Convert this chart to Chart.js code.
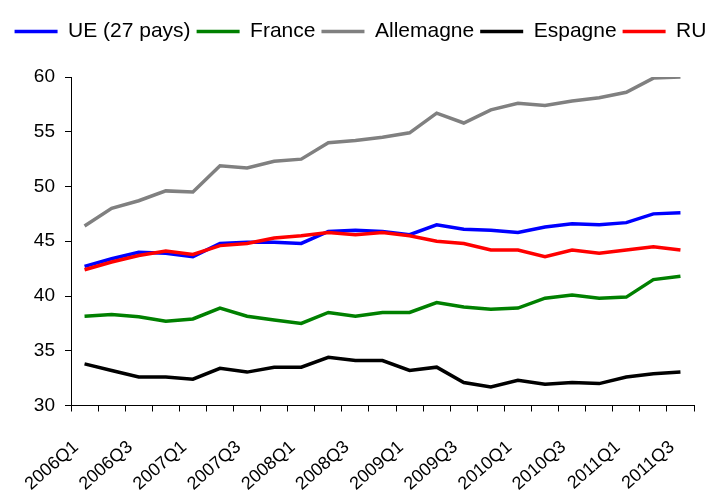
<!DOCTYPE html>
<html lang="fr">
<head>
  <meta charset="UTF-8">
  <script src="https://cdn.jsdelivr.net/npm/chart.js"></script>
  <style>
    html, body { margin: 0; padding: 0; background: #fff; }
    .box { width: 711px; height: 493px; }
  </style>
  <title>Graphique</title>
</head>
<body>
  <div class="box">
    <canvas id="graphique"></canvas>
  </div>

  <script>
    const trimestres = ["2006Q1", "2006Q2", "2006Q3", "2006Q4", "2007Q1", "2007Q2", "2007Q3", "2007Q4",
      "2008Q1", "2008Q2", "2008Q3", "2008Q4", "2009Q1", "2009Q2", "2009Q3", "2009Q4",
      "2010Q1", "2010Q2", "2010Q3", "2010Q4", "2011Q1", "2011Q2", "2011Q3"];

    const ue = [42.7, 43.4, 44.0, 43.9, 43.6, 44.8, 44.9, 44.9, 44.8, 45.9, 46.0, 45.9,
      45.6, 46.5, 46.1, 46.0, 45.8, 46.3, 46.6, 46.5, 46.7, 47.5, 47.6];
    const france = [38.15, 38.3, 38.1, 37.7, 37.9, 38.9, 38.15, 37.8, 37.5, 38.5, 38.15, 38.5,
      38.5, 39.4, 39.0, 38.8, 38.9, 39.8, 40.1, 39.8, 39.9, 41.5, 41.8];
    const allemagne = [46.4, 48.0, 48.7, 49.6, 49.5, 51.9, 51.7, 52.3, 52.5, 54.0, 54.2, 54.5,
      54.9, 56.7, 55.8, 57.0, 57.6, 57.4, 57.8, 58.1, 58.6, 59.9, 60.0];
    const espagne = [33.8, 33.2, 32.6, 32.6, 32.4, 33.4, 33.05, 33.5, 33.5, 34.4, 34.1, 34.1,
      33.2, 33.5, 32.1, 31.7, 32.3, 31.95, 32.1, 32.0, 32.6, 32.9, 33.05];
    const ru = [42.4, 43.1, 43.7, 44.1, 43.8, 44.6, 44.8, 45.3, 45.5, 45.8, 45.6, 45.8,
      45.5, 45.0, 44.8, 44.2, 44.2, 43.6, 44.2, 43.9, 44.2, 44.5, 44.2];

    const noir = "#000000";
    const police = "'Liberation Sans', Arial, sans-serif";

    // hauteur fixe de la légende, décalée un peu vers la droite
    const legendeHauteur = {
      id: "legendeHauteur",
      beforeInit(chart) {
        const fitOrig = chart.legend.fit;
        chart.legend.fit = function () {
          fitOrig.bind(chart.legend)();
          this.height = 62;
        };
      },
      afterLayout(chart) {
        chart.legend.left += 5;
        chart.legend.right += 5;
      }
    };

    function serie(label, data, couleur, ordre) {
      return {
        label: label,
        data: data,
        borderColor: couleur,
        backgroundColor: couleur,
        borderWidth: 3.5,
        pointRadius: 0,
        tension: 0,
        fill: false,
        order: ordre
      };
    }

    const ctx = document.getElementById("graphique").getContext("2d");
    new Chart(ctx, {
      type: "line",
      data: {
        labels: trimestres,
        datasets: [
          serie("UE (27 pays)", ue, "#0000FF", 4),
          serie("France", france, "#008000", 3),
          serie("Allemagne", allemagne, "#808080", 2),
          serie("Espagne", espagne, noir, 1),
          serie("RU", ru, "#FF0000", 0)
        ]
      },
      options: {
        responsive: true,
        maintainAspectRatio: false,
        animation: false,
        layout: { padding: { top: 15, left: 0, right: 0, bottom: 0 } },
        plugins: {
          tooltip: { enabled: false },
          legend: {
            position: "top",
            labels: {
              font: { family: police, size: 21 },
              color: noir,
              boxWidth: 43,
              boxHeight: 0,
              padding: 6,
              sort: (a, b) => a.datasetIndex - b.datasetIndex
            }
          }
        },
        scales: {
          x: {
            offset: true,
            grid: {
              offset: true,
              drawOnChartArea: false,
              drawTicks: true,
              tickLength: 6,
              color: noir
            },
            border: { display: true, color: noir, width: 1 },
            ticks: {
              autoSkip: false,
              minRotation: 41,
              maxRotation: 41,
              padding: 25,
              labelOffset: -8.5,
              color: noir,
              font: { family: police, size: 18 },
              callback: function (val, i) {
                return i % 2 === 0 ? trimestres[i] : "";
              }
            },
            afterFit: function (s) {
              s.height = 87.5;
              s.paddingRight = 17;
            }
          },
          y: {
            min: 30,
            max: 60,
            grid: {
              drawOnChartArea: false,
              drawTicks: true,
              tickLength: 6,
              color: noir
            },
            border: { display: true, color: noir, width: 1 },
            ticks: {
              stepSize: 5,
              padding: 10,
              color: noir,
              font: { family: police, size: 19 }
            },
            afterFit: function (s) {
              s.width = 71;
            }
          }
        }
      },
      plugins: [legendeHauteur]
    });
  </script>
</body>
</html>
